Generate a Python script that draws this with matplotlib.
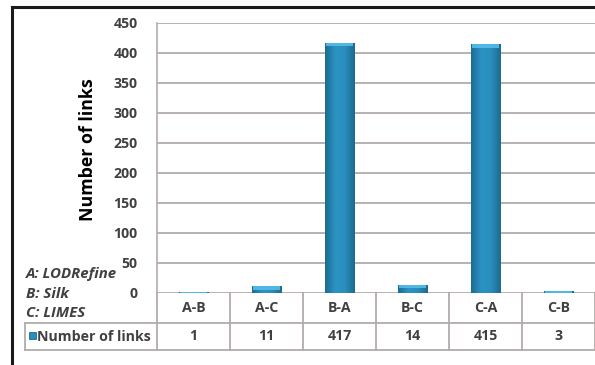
import matplotlib
matplotlib.use("Agg")
import matplotlib.pyplot as plt
import numpy as np
from matplotlib.transforms import blended_transform_factory
from matplotlib.lines import Line2D
from matplotlib.patches import Rectangle
from matplotlib.colors import LinearSegmentedColormap

categories = ["A-B", "A-C", "B-A", "B-C", "C-A", "C-B"]
links = [1, 11, 417, 14, 415, 3]
yticks = [0, 50, 100, 150, 200, 250, 300, 350, 400, 450]
series_name = "Number of links"
key_lines = ["A: LODRefine", "B: Silk", "C: LIMES"]

W, H = 595, 365
TEXT = "#404040"
GRID = "#B3ABAB"
FONT = "Open Sans"
FS = 10.2

fig = plt.figure(figsize=(W / 100, H / 100), dpi=100)
fig.patch.set_facecolor("white")

# plot area in pixels
x0, x1 = 157, 595
ytop, ybot = 23, 293
ax = fig.add_axes([x0 / W, (H - ybot) / H, (x1 - x0) / W, (ybot - ytop) / H])
ax.set_xlim(-0.5, len(categories) - 0.5)
ax.set_ylim(0, 450)
ax.set_facecolor("white")
for s in ["top", "right", "bottom"]:
    ax.spines[s].set_visible(False)
ax.spines["left"].set_color(GRID)
ax.spines["left"].set_linewidth(1.2)
ax.set_xticks([])
ax.set_yticks(yticks)
ax.tick_params(axis="y", length=0, pad=14, labelcolor=TEXT)
for lab in ax.get_yticklabels():
    lab.set_fontfamily(FONT)
    lab.set_fontweight("bold")
    lab.set_fontsize(FS)
for t in yticks:
    ax.axhline(t, color=GRID, lw=1.3, zorder=1)

# bars with a cylinder-like shading
cmap = LinearSegmentedColormap.from_list(
    "barshade", ["#1C6C92", "#2B93C3", "#2A8EBD", "#1D6A8E"])
grad = np.linspace(0, 1, 64).reshape(1, -1)
bw = 0.4
bars = ax.bar(range(len(categories)), links, width=bw, color="#2A8EBD",
              edgecolor="none", zorder=3)
for b, v in zip(bars, links):
    bx = b.get_x()
    im = ax.imshow(grad, cmap=cmap, aspect="auto", zorder=3.5,
                   extent=[bx, bx + bw, 0, v], interpolation="bilinear")
    im.set_clip_path(b)
    # light cap on top of each bar
    cap = min(v, 6)
    ax.add_patch(Rectangle((bx + 0.01, v - cap), bw - 0.02, cap,
                           facecolor="#56BCE8", edgecolor="none",
                           zorder=4, alpha=0.9))
ax.set_xlim(-0.5, len(categories) - 0.5)
ax.set_ylim(0, 450)

# data table below the plot
trans = blended_transform_factory(ax.transData, ax.transAxes)
ph = ybot - ytop
r1 = -(323 - ybot) / ph
r2 = -(350 - ybot) / ph
xleft = -0.5 - (x0 - 25) / 73.0
n = len(categories)
kw = dict(transform=trans, color=GRID, lw=1.3, clip_on=False)
ax.add_line(Line2D([-0.5, n - 0.5], [r1, r1], **kw))
ax.add_line(Line2D([xleft, n - 0.5], [r2, r2], **kw))
ax.add_line(Line2D([xleft, -0.5], [r1, r1], **kw))
ax.add_line(Line2D([xleft, xleft], [r1, r2], **kw))
for i in range(n + 1):
    ax.add_line(Line2D([i - 0.5, i - 0.5], [0, r2], **kw))
for i, (c, v) in enumerate(zip(categories, links)):
    ax.text(i, r1 / 2, c, transform=trans, ha="center", va="center",
            fontsize=FS, fontweight="bold", color=TEXT, family=FONT)
    ax.text(i, (r1 + r2) / 2, str(v), transform=trans, ha="center",
            va="center", fontsize=FS, fontweight="bold", color=TEXT,
            family=FONT)

# legend key in the table row
fig.add_artist(Rectangle((29 / W, (H - 339) / H), 7 / W, 7 / H,
                         facecolor="#2A8EBD", edgecolor="#1C6C92", lw=0.6,
                         transform=fig.transFigure))
fig.text(37 / W, (H - 337) / H, series_name, ha="left", va="center",
         fontsize=FS, fontweight="bold", color=TEXT, family=FONT)

# dataset key
for txt, yp in zip(key_lines, [278, 298, 317]):
    fig.text(26 / W, (H - yp) / H, txt, ha="left", va="baseline",
             fontsize=10.8, fontweight="bold", style="italic", color=TEXT,
             family=FONT)

fig.text(88 / W, (H - 150) / H, "Number of links", rotation=90,
         ha="center", va="center", fontsize=12.8, fontweight="bold",
         color="black", family=FONT)

# outer frame
fk = dict(transform=fig.transFigure, color="#1A1A1A", lw=2.2)
fig.add_artist(Line2D([12 / W, 12 / W], [(H - 7) / H, 0], **fk))
fig.add_artist(Line2D([12 / W, 1], [(H - 7) / H, (H - 7) / H], **fk))

fig.savefig("out.png", dpi=100, facecolor="white")
